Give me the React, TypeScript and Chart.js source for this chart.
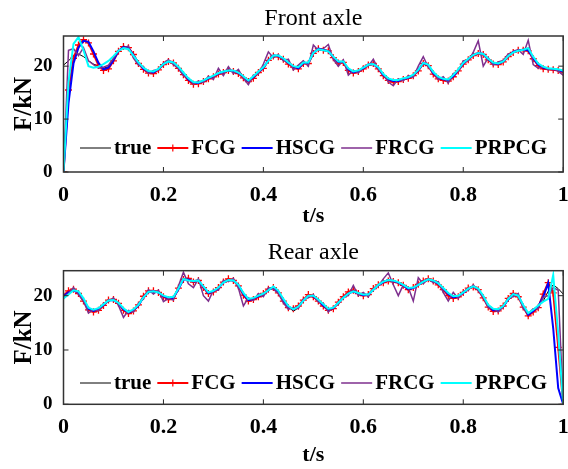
import React, { useEffect, useRef } from 'react';
import { Chart, registerables } from 'chart.js';

Chart.register(...registerables);

// time grid (s), uniform 0.01 sampling
const T: number[] = Array.from({ length: 101 }, (_, i) => i / 100);

const SERIES_LABELS = ['true', 'FCG', 'HSCG', 'FRCG', 'PRPCG'];
const SERIES_COLORS = ['#000000', '#FF0000', '#0000FF', '#7E2F8E', '#00FFFF'];
const X_TICKS = [0, 0.2, 0.4, 0.6, 0.8, 1];
const Y_TICKS = [0, 10, 20];

// ---------- Front axle (kN) ----------
const FRONT_TRUE = [
  20.2, 21.0, 22.0, 22.3, 21.8, 21.0, 20.4, 20.0, 19.6, 19.9,
  21.3, 23.0, 23.6, 23.3, 22.0, 20.6, 19.6, 19.0, 18.9, 19.5,
  20.4, 20.9, 20.7, 19.8, 18.7, 17.6, 16.9, 16.9, 17.3, 17.7,
  18.2, 18.6, 18.9, 19.1, 19.2, 18.8, 18.1, 17.2, 18.0, 19.0,
  19.7, 21.0, 22.1, 22.0, 21.5, 20.7, 20.0, 19.7, 20.7, 20.6,
  22.6, 23.3, 23.1, 22.8, 21.8, 20.9, 20.9, 19.5, 18.9, 19.1,
  19.6, 20.3, 20.4, 19.7, 18.4, 17.6, 17.3, 17.3, 17.6, 17.8,
  18.3, 19.3, 20.6, 20.3, 18.8, 17.9, 17.6, 17.4, 18.2, 19.3,
  20.5, 21.3, 22.1, 22.5, 22.3, 21.4, 20.7, 20.5, 20.9, 21.9,
  22.7, 23.0, 23.2, 23.1, 21.6, 20.4, 19.8, 19.6, 19.5, 19.3,
  19.1,
];
const FRONT_FCG = [
  0, 15.5, 21.5, 24.0, 25.0, 24.4, 22.3, 20.2, 19.2, 19.5,
  21.0, 22.8, 23.7, 23.5, 22.2, 20.5, 19.4, 18.7, 18.6, 19.3,
  20.3, 20.9, 20.6, 19.6, 18.4, 17.3, 16.6, 16.7, 17.1, 17.6,
  18.0, 18.5, 18.8, 19.2, 19.0, 18.6, 17.8, 17.1, 17.7, 18.8,
  19.6, 21.1, 21.9, 21.8, 21.3, 20.4, 19.8, 19.5, 20.5, 20.5,
  22.4, 23.3, 23.0, 22.9, 21.6, 20.6, 20.7, 19.2, 18.7, 19.0,
  19.5, 20.2, 20.5, 19.5, 18.2, 17.3, 17.0, 17.1, 17.5, 17.7,
  18.2, 19.1, 20.5, 20.1, 18.5, 17.6, 17.3, 17.2, 18.0, 19.1,
  20.4, 21.2, 22.0, 22.4, 22.2, 21.2, 20.4, 20.3, 20.8, 21.8,
  22.6, 23.0, 23.0, 22.9, 21.4, 20.1, 19.5, 19.4, 19.3, 19.2,
  18.9,
];
const FRONT_HSCG = [
  0, 13.0, 20.5, 23.5, 24.8, 24.6, 22.8, 20.6, 19.4, 19.7,
  21.1, 22.9, 23.6, 23.4, 22.1, 20.6, 19.5, 18.9, 18.8, 19.4,
  20.4, 20.9, 20.7, 19.7, 18.6, 17.5, 16.8, 16.8, 17.2, 17.7,
  18.1, 18.6, 18.9, 19.2, 19.1, 18.7, 18.0, 17.2, 17.9, 18.9,
  19.7, 21.1, 22.0, 21.9, 21.4, 20.6, 19.9, 19.6, 20.6, 20.6,
  22.5, 23.3, 23.1, 22.8, 21.7, 20.8, 20.8, 19.4, 18.8, 19.1,
  19.6, 20.3, 20.4, 19.6, 18.3, 17.5, 17.2, 17.2, 17.5, 17.8,
  18.3, 19.2, 20.6, 20.2, 18.7, 17.8, 17.5, 17.3, 18.1, 19.2,
  20.5, 21.3, 22.1, 22.5, 22.3, 21.3, 20.6, 20.4, 20.9, 21.9,
  22.7, 23.0, 23.1, 23.0, 21.5, 20.3, 19.7, 19.5, 19.4, 19.3,
  19.0,
];
const FRONT_FRCG = [
  0, 23.0, 23.3, 22.0, 23.5, 21.0, 20.3, 19.6, 19.8, 20.2,
  21.5, 23.0, 23.4, 23.8, 21.5, 20.2, 19.9, 18.6, 19.2, 19.3,
  20.6, 21.2, 20.3, 19.6, 18.2, 17.8, 16.6, 17.2, 16.9, 18.1,
  17.5, 19.6, 18.2, 19.9, 18.6, 19.4, 17.7, 16.5, 18.3, 18.5,
  20.4, 22.7, 21.6, 22.2, 21.0, 21.3, 19.3, 20.2, 21.0, 20.0,
  24.0, 23.0, 23.3, 24.1, 21.3, 20.0, 21.2, 18.3, 19.2, 18.7,
  19.9, 20.0, 21.3, 19.4, 18.6, 17.0, 16.3, 17.6, 17.2, 18.2,
  17.9, 20.0, 21.8, 19.8, 19.0, 17.5, 18.0, 16.8, 18.6, 19.0,
  21.0, 21.0, 22.6, 24.8, 20.0, 21.6, 20.2, 20.8, 21.1, 22.3,
  22.5, 23.1, 22.2, 24.9, 20.3, 19.6, 19.9, 19.3, 19.6, 19.0,
  18.3,
];
const FRONT_PRPCG = [
  0, 17.0, 24.2, 25.5, 23.0, 20.0, 19.7, 19.9, 20.4, 21.0,
  21.9, 22.9, 23.4, 23.2, 22.0, 20.7, 19.7, 19.1, 19.0, 19.5,
  20.4, 20.9, 20.7, 19.9, 18.8, 17.7, 17.0, 16.9, 17.3, 17.8,
  18.2, 18.7, 19.0, 19.2, 19.2, 18.8, 18.1, 17.3, 18.1, 19.0,
  19.8, 21.0, 22.0, 22.0, 21.5, 20.7, 20.0, 19.8, 20.7, 20.7,
  22.5, 23.2, 23.0, 22.8, 21.8, 20.9, 20.9, 19.6, 19.0, 19.2,
  19.7, 20.3, 20.4, 19.8, 18.5, 17.7, 17.4, 17.4, 17.7, 17.9,
  18.4, 19.3, 20.6, 20.3, 18.9, 18.0, 17.6, 17.5, 18.3, 19.4,
  20.6, 21.4, 22.1, 22.5, 22.3, 21.4, 20.7, 20.5, 20.9, 21.9,
  22.6, 22.9, 23.1, 23.4, 21.8, 20.5, 19.9, 19.6, 19.5, 19.4,
  19.2,
];

// ---------- Rear axle (kN) ----------
const REAR_TRUE = [
  20.1, 20.6, 21.0, 20.6, 19.3, 17.6, 17.2, 17.6, 18.4, 19.2,
  19.2, 18.7, 17.6, 16.9, 17.4, 18.1, 19.6, 20.7, 20.8, 20.6,
  19.9, 19.5, 19.6, 21.2, 23.2, 22.9, 22.7, 22.9, 21.7, 20.5,
  20.8, 21.4, 22.4, 22.9, 22.9, 22.1, 20.5, 19.3, 19.5, 19.9,
  20.2, 21.0, 21.7, 20.8, 19.3, 18.0, 17.1, 17.8, 19.0, 19.9,
  19.9, 19.2, 18.3, 17.5, 17.7, 18.6, 19.5, 20.3, 20.8, 20.5,
  20.2, 20.1, 21.0, 21.9, 22.6, 23.0, 22.8, 22.5, 22.0, 21.3,
  21.4, 21.9, 22.5, 23.0, 22.8, 22.4, 21.5, 20.5, 19.8, 19.9,
  20.5, 21.3, 21.7, 21.3, 19.9, 18.2, 17.4, 17.3, 17.9, 19.2,
  20.2, 20.0, 18.2, 16.6, 17.2, 17.9, 19.0, 20.8, 22.0, 21.3,
  20.3,
];
const REAR_FCG = [
  20.0, 20.9, 21.2, 20.4, 19.0, 17.4, 17.0, 17.3, 18.2, 19.2,
  19.3, 18.6, 17.3, 16.7, 17.2, 18.3, 19.9, 20.9, 20.9, 20.6,
  19.8, 19.3, 19.5, 21.4, 23.0, 23.2, 22.5, 22.8, 21.5, 20.4,
  20.7, 21.5, 22.5, 23.1, 22.8, 21.8, 20.1, 19.0, 19.3, 19.8,
  20.4, 21.2, 21.5, 20.5, 19.0, 17.8, 17.6, 18.1, 19.2, 20.2,
  19.8, 19.0, 18.1, 17.3, 17.6, 18.8, 19.8, 20.7, 21.0, 20.4,
  20.0, 20.2, 21.3, 22.0, 22.4, 22.7, 22.6, 22.4, 21.9, 21.1,
  21.5, 22.1, 22.7, 23.1, 22.7, 22.0, 21.1, 20.0, 19.5, 19.8,
  20.6, 21.4, 21.6, 21.1, 19.6, 17.9, 17.1, 17.2, 18.1, 19.5,
  20.4, 19.8, 17.9, 16.3, 17.0, 17.8, 20.3, 22.4, 20.5, 10.5,
  0,
];
const REAR_HSCG = [
  19.9, 20.6, 21.0, 20.5, 19.2, 17.6, 17.2, 17.5, 18.3, 19.1,
  19.2, 18.6, 17.5, 16.9, 17.3, 18.2, 19.7, 20.7, 20.8, 20.6,
  19.9, 19.5, 19.6, 21.2, 23.0, 23.0, 22.6, 22.8, 21.6, 20.5,
  20.8, 21.4, 22.4, 22.9, 22.8, 22.0, 20.3, 19.2, 19.4, 19.9,
  20.3, 21.0, 21.6, 20.7, 19.2, 18.0, 17.5, 18.0, 19.1, 20.0,
  19.9, 19.1, 18.2, 17.4, 17.7, 18.7, 19.6, 20.4, 20.8, 20.4,
  20.1, 20.2, 21.1, 21.9, 22.5, 22.9, 22.7, 22.4, 21.9, 21.2,
  21.4, 22.0, 22.6, 23.0, 22.7, 22.2, 21.3, 20.3, 19.7, 19.9,
  20.5, 21.3, 21.7, 21.2, 19.8, 18.1, 17.3, 17.3, 18.0, 19.3,
  20.3, 20.0, 18.1, 16.5, 17.2, 18.0, 19.8, 22.3, 14.0, 3.0,
  0,
];
const REAR_FRCG = [
  19.8, 20.4, 21.5, 20.2, 19.0, 16.8, 17.5, 17.2, 18.6, 18.9,
  19.6, 18.2, 16.0, 17.3, 17.0, 18.6, 19.4, 21.1, 20.3, 21.0,
  18.9, 19.5, 19.2, 21.8, 24.3, 22.2, 21.5, 23.1, 20.0, 19.0,
  21.0, 21.0, 22.8, 22.6, 23.2, 21.4, 18.1, 19.6, 19.1, 20.4,
  19.8, 21.5, 21.2, 20.4, 18.7, 17.5, 17.8, 17.6, 19.4, 19.6,
  20.2, 18.8, 18.6, 17.0, 17.9, 18.4, 19.8, 20.0, 21.9, 20.0,
  20.6, 19.8, 21.3, 21.8, 23.1, 24.2, 22.0, 20.0, 22.0, 21.5,
  19.0, 23.3, 22.2, 23.1, 22.4, 22.6, 20.6, 19.0, 20.6, 19.5,
  20.8, 21.0, 22.0, 20.9, 19.7, 17.8, 17.6, 17.0, 18.0, 19.6,
  19.8, 20.4, 17.6, 16.7, 17.6, 17.6, 19.7, 20.0, 21.5, 21.0,
  0,
];
const REAR_PRPCG = [
  19.5, 20.2, 21.0, 20.8, 19.5, 17.8, 17.4, 17.7, 18.4, 19.1,
  19.2, 18.7, 17.7, 17.0, 17.5, 18.3, 19.7, 20.7, 20.8, 20.6,
  20.0, 19.7, 19.8, 21.3, 23.1, 22.8, 22.7, 22.8, 21.7, 20.6,
  20.9, 21.5, 22.4, 22.9, 22.8, 22.0, 20.5, 19.4, 19.6, 20.0,
  20.4, 21.0, 21.7, 20.9, 19.4, 18.1, 17.5, 18.0, 19.1, 20.0,
  20.0, 19.3, 18.4, 17.6, 17.8, 18.7, 19.6, 20.4, 20.8, 20.5,
  20.2, 20.2, 21.1, 22.0, 22.6, 22.9, 22.8, 22.5, 22.0, 21.4,
  21.5, 22.0, 22.6, 23.0, 22.8, 22.3, 21.4, 20.5, 19.9, 20.0,
  20.6, 21.3, 21.7, 21.3, 20.0, 18.3, 17.6, 17.5, 18.1, 19.4,
  20.3, 20.0, 18.3, 16.8, 17.4, 18.2, 18.9, 19.4, 23.8, 13.0,
  0,
];

const FRONT_Y_MAX = 25.7;
const REAR_Y_MAX = 24.6;

const SERIF = "'Liberation Serif', 'Times New Roman', serif";

const framePlugin = {
  id: 'frame',
  afterDatasetsDraw(chart: any, _args: any, opts: any) {
    const { ctx, chartArea: a, scales } = chart;
    ctx.save();
    // ticks (inward)
    ctx.strokeStyle = '#262626';
    ctx.lineWidth = 1;
    ctx.beginPath();
    X_TICKS.forEach((v) => {
      const p = scales.x.getPixelForValue(v);
      ctx.moveTo(p, a.bottom);
      ctx.lineTo(p, a.bottom - 5);
      ctx.moveTo(p, a.top);
      ctx.lineTo(p, a.top + 5);
    });
    Y_TICKS.forEach((v) => {
      const p = scales.y.getPixelForValue(v);
      ctx.moveTo(a.left, p);
      ctx.lineTo(a.left + 5, p);
      ctx.moveTo(a.right, p);
      ctx.lineTo(a.right - 5, p);
    });
    ctx.stroke();
    // frame
    ctx.lineWidth = 1.5;
    ctx.strokeStyle = '#333333';
    ctx.strokeRect(a.left, a.top, a.right - a.left, a.bottom - a.top);
    // title
    ctx.fillStyle = '#000';
    ctx.font = `24px ${SERIF}`;
    ctx.textAlign = 'center';
    ctx.textBaseline = 'middle';
    ctx.fillText(opts.title, (a.left + a.right) / 2, opts.titleY);
    // legend
    ctx.font = `bold 21px ${SERIF}`;
    ctx.textAlign = 'left';
    let x = opts.legendX;
    const y = opts.legendY;
    chart.data.datasets.forEach((ds: any) => {
      ctx.strokeStyle = ds.borderColor;
      ctx.lineWidth = ds.borderWidth;
      ctx.beginPath();
      ctx.moveTo(x, y);
      ctx.lineTo(x + 31, y);
      ctx.stroke();
      if (ds.pointRadius > 0) {
        const cx = x + 15.5;
        ctx.lineWidth = 1.2;
        ctx.beginPath();
        ctx.moveTo(cx - 3.5, y);
        ctx.lineTo(cx + 3.5, y);
        ctx.moveTo(cx, y - 3.5);
        ctx.lineTo(cx, y + 3.5);
        ctx.stroke();
      }
      ctx.fillStyle = '#000';
      ctx.fillText(ds.label, x + 34, y + 1);
      x += 34 + ctx.measureText(ds.label).width + 6;
    });
    ctx.restore();
  },
};

function makeDatasets(series: number[][]) {
  const widths = [1, 2, 2, 1.5, 2];
  const orders = [5, 4, 3, 2, 1];
  return series.map((vals, k) => ({
    label: SERIES_LABELS[k],
    data: T.map((t, i) => ({ x: t, y: vals[i] })),
    borderColor: SERIES_COLORS[k],
    backgroundColor: SERIES_COLORS[k],
    borderWidth: widths[k],
    order: orders[k],
    pointRadius: k === 1 ? 3.5 : 0,
    pointStyle: 'cross',
    pointBorderColor: SERIES_COLORS[k],
    pointBorderWidth: 1.3,
    pointHoverRadius: 0,
    fill: false,
    tension: 0,
  }));
}

function makeConfig(
  series: number[][], yMax: number, title: string, plotTop: number, xAxisH: number,
  titleY: number, legendY: number, xTitlePad: number,
) {
  const xTickFont = { family: SERIF, size: 22, weight: 'bold' as const };
  const yTickFont = { family: SERIF, size: 19, weight: 'bold' as const };
  const xTitleFont = { family: SERIF, size: 22, weight: 'bold' as const };
  const yTitleFont = { family: SERIF, size: 25, weight: 'bold' as const };
  return {
    type: 'line' as const,
    data: { datasets: makeDatasets(series) },
    plugins: [framePlugin],
    options: {
      responsive: false,
      animation: false as const,
      events: [],
      layout: { padding: { top: plotTop, right: 4, left: 0, bottom: 0 } },
      plugins: {
        legend: { display: false },
        title: { display: false },
        tooltip: { enabled: false },
        frame: { title, titleY, legendX: 80, legendY },
      },
      scales: {
        x: {
          type: 'linear' as const,
          min: 0,
          max: 1,
          afterFit: (s: any) => { s.height = xAxisH; s.paddingLeft = 0; s.paddingRight = 0; },
          afterBuildTicks: (s: any) => { s.ticks = X_TICKS.map((v) => ({ value: v })); },
          ticks: {
            color: '#000', font: xTickFont, padding: 10, maxRotation: 0, autoSkip: false,
            callback: (v: any) => String(Number(v)),
          },
          grid: { display: false, drawTicks: false },
          border: { display: false },
          title: { display: true, text: 't/s', color: '#000', font: xTitleFont, padding: { top: 0, bottom: xTitlePad } },
        },
        y: {
          type: 'linear' as const,
          min: 0,
          max: yMax,
          afterFit: (s: any) => { s.width = 63.5; s.paddingTop = 0; s.paddingBottom = 0; },
          afterBuildTicks: (s: any) => { s.ticks = Y_TICKS.map((v) => ({ value: v })); },
          ticks: { color: '#000', font: yTickFont, padding: 11, callback: (v: any) => String(Number(v)) },
          grid: { display: false, drawTicks: false },
          border: { display: false },
          title: { display: true, text: 'F/kN', color: '#000', font: yTitleFont, padding: { top: 10, bottom: 0 } },
        },
      },
    },
  };
}

function AxlePlot(props: { top: number; height: number; config: any }) {
  const ref = useRef<HTMLCanvasElement | null>(null);
  useEffect(() => {
    if (!ref.current) return;
    const chart = new Chart(ref.current, props.config);
    return () => chart.destroy();
  }, []);
  return (
    <canvas
      ref={ref}
      width={568}
      height={props.height}
      style={{ position: 'absolute', left: 0, top: props.top, width: 568, height: props.height }}
    />
  );
}

export default function App() {
  const frontCfg = makeConfig(
    [FRONT_TRUE, FRONT_FCG, FRONT_HSCG, FRONT_FRCG, FRONT_PRPCG],
    FRONT_Y_MAX, 'Front axle', 36, 62, 19, 148, 4,
  );
  const rearCfg = makeConfig(
    [REAR_TRUE, REAR_FCG, REAR_HSCG, REAR_FRCG, REAR_PRPCG],
    REAR_Y_MAX, 'Rear axle', 36.7, 64.7, 19, 149, 0,
  );
  return (
    <div style={{ position: 'absolute', left: 0, top: 0, width: 568, height: 469, background: '#fff' }}>
      <AxlePlot top={0} height={234} config={frontCfg} />
      <AxlePlot top={234} height={235} config={rearCfg} />
    </div>
  );
}
